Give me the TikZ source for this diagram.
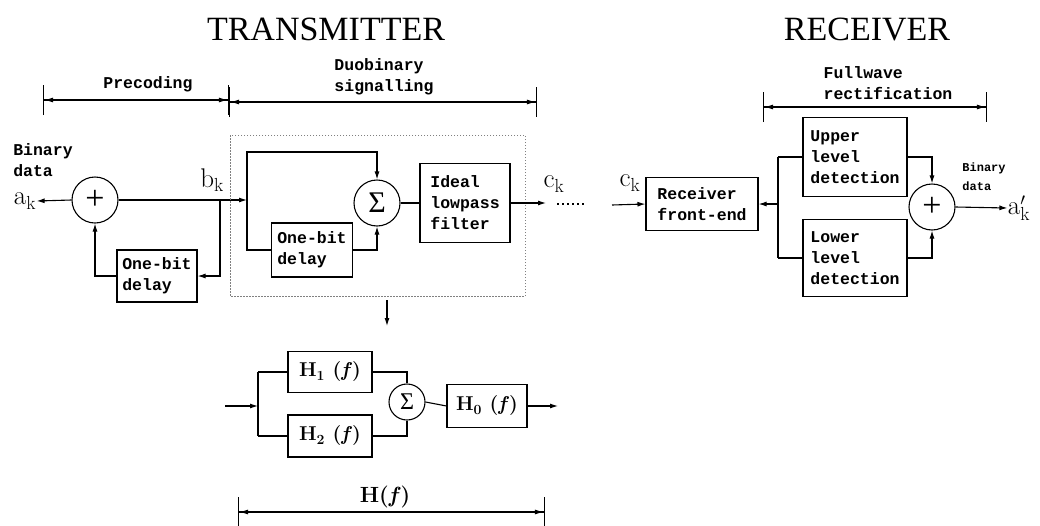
\documentclass[tikz,border=0pt]{standalone}
\usepackage{fontspec}
\newfontfamily\monob{Liberation Mono}
\newfontfamily\titlefont{Liberation Serif}
\usetikzlibrary{arrows.meta}
\tikzset{
  arr/.style={-{Latex[length=8pt,width=5pt]}},
  dim/.style={{Bar[width=30pt]Latex[length=9pt,width=5pt]}-{Latex[length=9pt,width=5pt]Bar[width=30pt]}},
  bx/.style n args={2}{draw, rectangle, inner sep=0pt, align=left, minimum width=#1, minimum height=#2,
     font=\monob\bfseries\fontsize{16.5}{21}\selectfont},
  lbl/.style={align=left, inner sep=0pt, font=\monob\bfseries\fontsize{16.5}{21}\selectfont},
  sumc/.style={draw, circle, inner sep=0pt, minimum size=#1},
  hbx/.style n args={2}{draw, rectangle, inner sep=0pt, minimum width=#1, minimum height=#2,
     font=\bfseries\fontsize{20}{22}\selectfont},
  sym/.style={inner sep=0pt, font=\titlefont\fontsize{#1}{#1}\selectfont},
  mlbl/.style={inner sep=0pt, font=\fontsize{27}{27}\selectfont},
  title/.style={inner sep=0pt, font=\titlefont\fontsize{34}{34}\selectfont},
}
\begin{document}
\begin{tikzpicture}[x=1pt,y=-1pt,line width=1.1pt]
\useasboundingbox (0,0) rectangle (1040,525);
% titles
\node[title] (tx) at (326,29) {TRANSMITTER};
\node[title] (rx) at (867,29) {RECEIVER};
% dimension lines
\coordinate (p1) at (43,100); \coordinate (p2) at (229,100);
\coordinate (q1) at (229,102); \coordinate (q2) at (537,102);
\coordinate (f1) at (763,107); \coordinate (f2) at (987,107);
\coordinate (hh1) at (238,512); \coordinate (hh2) at (545,512);
\draw[dim] (p1) -- (p2);
\draw[dim] (q1) -- (q2);
\draw[dim] (f1) -- (f2);
\draw[dim] (hh1) -- (hh2);
\node[lbl] (prec) at (148,84) {Precoding};
\node[lbl] (duo) at (384,77) {Duobinary\\signalling};
\node[lbl] (full) at (888,83) {Fullwave\\rectification};
\node[inner sep=0pt, font=\bfseries\fontsize{22}{22}\selectfont] (hf) at (385,497) {H(\textit{f})};
% precoder
\node[lbl] (bin1) at (43,160) {Binary\\data};
\node[mlbl] (ak) at (25,201) {$\mathrm{a}_\mathrm{k}$};
\node[sumc=46pt] (s1) at (95,200) {};
\node[sym=34] at (s1) {+};
\node[bx={80pt}{52pt}] (d1) at (157,276) {One-bit\\delay};
\node[mlbl] (bk) at (212,180) {$\mathrm{b}_\mathrm{k}$};
\coordinate (fb) at (220,200);
\coordinate (j1) at (247,200);
\draw[arr] (s1.west) -- (ak.east);
\draw[arr] (s1.east) -- (j1);
\draw[arr] (fb) |- (d1.east);
\draw[arr] (d1.west) -| (s1.south);
% duobinary
\draw[dash pattern=on 1.5pt off 1.5pt, line width=0.7pt, gray] (230,135) rectangle (525,296);
\node[sumc=46pt] (s2) at (377,203) {};
\node[sym=30] at (s2) {Σ};
\node[bx={81pt}{54pt}] (d2) at (312,250) {One-bit\\delay};
\node[bx={90pt}{79pt}] (lpf) at (465,203) {Ideal\\lowpass\\filter};
\coordinate (jt) at (247,152);
\draw[arr] (j1) -- (jt) -| (s2.north);
\draw (j1) |- (d2.west);
\draw[arr] (d2.east) -| (s2.south);
\draw (s2.east) -- (lpf.west);
\coordinate (co) at (546,203);
\draw[arr] (lpf.east) -- (co);
\node[mlbl] (ck1) at (554,184) {$\mathrm{c}_\mathrm{k}$};
\coordinate (dt1) at (557,204); \coordinate (dt2) at (585,204);
\draw[dash pattern=on 2pt off 3pt] (dt1) -- (dt2);
% down arrow
\coordinate (da1) at (387,300); \coordinate (da2) at (387,326);
\draw[arr] (da1) -- (da2);
% receiver
\node[bx={112pt}{53pt}] (rfe) at (702,204) {Receiver\\front-end};
\node[mlbl] (ck2) at (630,183) {$\mathrm{c}_\mathrm{k}$};
\coordinate (ri) at (612,205);
\draw[arr] (ri) -- (rfe.west);
\node[bx={104pt}{79pt}] (up) at (855,157) {Upper\\level\\detection};
\node[bx={104pt}{77pt}] (lo) at (855,258) {Lower\\level\\detection};
\coordinate (j2) at (778,204);
\coordinate (j2t) at (778,157);
\coordinate (j2b) at (778,258);
\draw[arr] (j2) -- (rfe.east);
\draw (j2t) -- (j2b);
\draw (j2t) -- (up.west);
\draw (j2b) -- (lo.west);
\node[sumc=46pt] (s4) at (932,207) {};
\node[sym=34] at (s4) {+};
\draw[arr] (up.east) -| (s4.north);
\draw[arr] (lo.east) -| (s4.south);
\node[mlbl] (ak2) at (1019,208) {$\mathrm{a}'_\mathrm{k}$};
\draw[arr] (s4.east) -- (ak2.west);
\node[align=left, inner sep=0pt, font=\monob\bfseries\fontsize{12}{19}\selectfont] (bin2) at (984,177) {Binary\\data};
% H(f) decomposition
\node[hbx={84pt}{41pt}] (h1) at (330,372) {H\textsubscript{1} (\textit{f})};
\node[hbx={84pt}{42pt}] (h2) at (330,436) {H\textsubscript{2} (\textit{f})};
\node[sumc=36pt] (s3) at (407,402) {};
\node[sym=24] at (s3) {Σ};
\node[hbx={80pt}{43pt}] (h0) at (487,406) {H\textsubscript{0} (\textit{f})};
\coordinate (hin) at (225,406);
\coordinate (j3) at (258,406);
\coordinate (j3t) at (258,372);
\coordinate (j3b) at (258,436);
\coordinate (hout) at (558,406);
\draw[arr] (hin) -- (j3);
\draw (j3t) -- (j3b);
\draw (j3t) -- (h1.west);
\draw (j3b) -- (h2.west);
\draw (h1.east) -| (s3.north);
\draw (h2.east) -| (s3.south);
\draw (s3.east) -- (h0.west);
\draw[arr] (h0.east) -- (hout);
\end{tikzpicture}
\end{document}
